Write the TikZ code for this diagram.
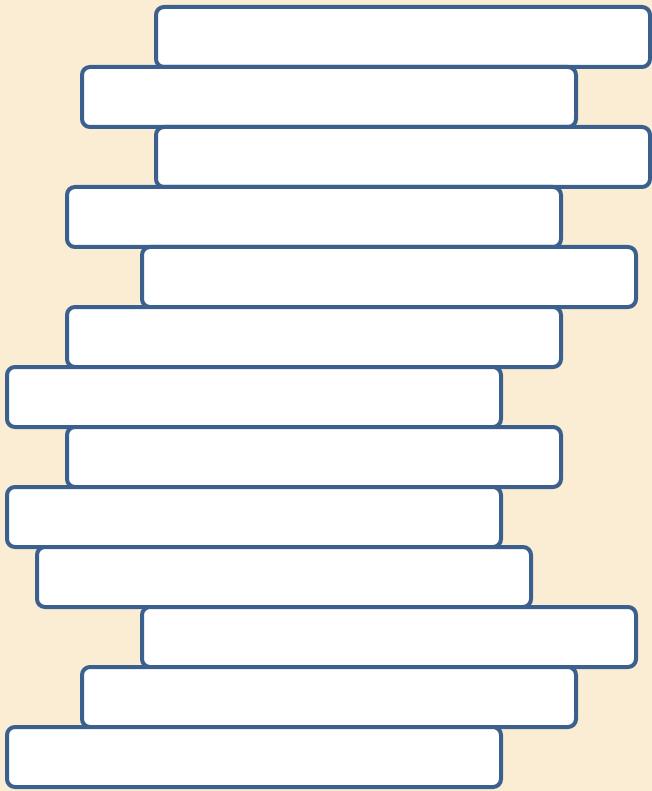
\documentclass[tikz,border=0pt]{standalone}
\definecolor{parch}{RGB}{251,237,212}
\definecolor{boxline}{RGB}{60,96,142}
\begin{document}
\begin{tikzpicture}[x=0.75pt,y=-0.75pt,
  slab/.style={draw=boxline,fill=white,line width=3pt,rounded corners=6pt,
    anchor=north west,inner sep=0pt,outer sep=0pt,
    minimum width=370.5pt,minimum height=45pt}]
\fill[parch] (0,0) rectangle (652,791);
\useasboundingbox (0,0) rectangle (652,791);
\node[slab] (b1)  at (156,7)   {};
\node[slab] (b2)  at (82,67)   {};
\node[slab] (b3)  at (156,127) {};
\node[slab] (b4)  at (67,187)  {};
\node[slab] (b5)  at (142,247) {};
\node[slab] (b6)  at (67,307)  {};
\node[slab] (b7)  at (7,367)   {};
\node[slab] (b8)  at (67,427)  {};
\node[slab] (b9)  at (7,487)   {};
\node[slab] (b10) at (37,547)  {};
\node[slab] (b11) at (142,607) {};
\node[slab] (b12) at (82,667)  {};
\node[slab] (b13) at (7,727)   {};
\end{tikzpicture}
\end{document}
